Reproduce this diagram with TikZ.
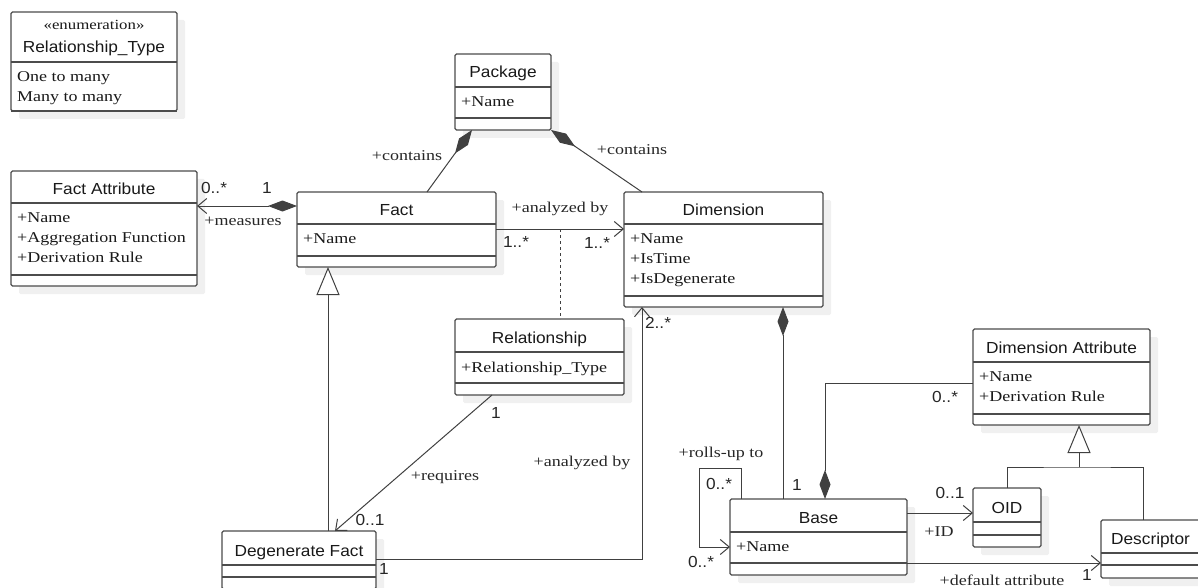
\documentclass[tikz,border=0pt]{standalone}
\usepackage{fontspec}
\setmainfont{Liberation Serif}[FakeStretch=1.2]
\setsansfont{Liberation Sans}[FakeStretch=1.08]
\usetikzlibrary{arrows.meta,shadows}

\newcommand{\namefont}{\sffamily\fontsize{16}{19}\selectfont}
\newcommand{\attrfont}{\rmfamily\fontsize{15}{20}\selectfont}
\newcommand{\multfont}{\sffamily\fontsize{16}{19}\selectfont}

\tikzset{
  classbox/.style={draw=black!70, line width=1.2pt, fill=white, rounded corners=1.5pt,
    anchor=north west, outer sep=0pt, inner sep=0pt,
    drop shadow={shadow xshift=8pt, shadow yshift=-8pt, fill=black!6, opacity=1}},
  sepline/.style={draw=black!70, line width=1.2pt},
  classname/.style={font=\namefont, text=black!90, anchor=base, inner sep=0pt},
  classattr/.style={font=\attrfont, text=black!90, anchor=north west, align=left, inner sep=0pt},
  stereo/.style={font=\rmfamily\fontsize{14}{16}\selectfont, text=black!90, anchor=base, inner sep=0pt},
  line/.style={draw=black!75, line width=1pt},
  nav/.style={line, ->},
  comp/.style={line, {Diamond[length=29pt,width=11pt]}-},
  compnav/.style={line, {Diamond[length=29pt,width=11pt]}->},
  gen/.style={line, -{Triangle[open,length=28pt,width=23pt,fill=white]}},
  assocclass/.style={line, dash pattern=on 3pt off 3pt},
  mult/.style={font=\multfont, text=black!85, inner sep=0pt, text height=11pt, text depth=0pt},
  role/.style={font=\attrfont, text=black!85, inner sep=0pt, text height=10pt, text depth=3pt},
}

% class box: name, x, y, width, header, attributes, operations, title, attribute lines
\newcommand{\umlclass}[9]{%
  \node[classbox, minimum width=#4pt, minimum height={(#5+#6+#7)*1pt}] (#1) at (#2,#3) {};
  \draw[sepline] ([yshift=-#5pt]#1.north west) -- ([yshift=-#5pt]#1.north east);
  \draw[sepline] ([yshift={-(#5+#6)*1pt}]#1.north west) -- ([yshift={-(#5+#6)*1pt}]#1.north east);
  \node[classname] (#1-name) at ([yshift={-(#5-9)*1pt}]#1.north) {#8};
  \node[classattr] (#1-attr) at ([xshift=6pt,yshift={-(#5+9.5)*1pt}]#1.north west) {#9};
}

\begin{document}
\begin{tikzpicture}[x=1pt, y=-1pt, >={Straight Barb[length=9pt,width=15pt]}]
  \useasboundingbox (0,0) rectangle (1198,588);

  % classes
  \umlclass{reltype}{11}{12}{166}{50}{49}{0}{Relationship\_Type}{One to many\\Many to many}
  \node[stereo] (reltype-stereo) at ([yshift=-18pt]reltype.north) {«enumeration»};
  \umlclass{package}{455}{54}{96}{33}{31}{12}{Package}{+Name}
  \umlclass{factattr}{11}{171}{186}{32}{72}{11}{Fact Attribute}{+Name\\+Aggregation Function\\+Derivation Rule}
  \umlclass{fact}{297}{192}{199}{32}{32}{11}{Fact}{+Name}
  \umlclass{dimension}{624}{192}{199}{32}{72}{11}{Dimension}{+Name\\+IsTime\\+IsDegenerate}
  \umlclass{relationship}{455}{319}{169}{33}{31}{12}{Relationship}{+Relationship\_Type}
  \umlclass{degfact}{222}{531}{154}{34}{12}{12}{Degenerate Fact}{}
  \umlclass{dimattr}{973}{329}{177}{33}{52}{11}{Dimension Attribute}{+Name\\+Derivation Rule}
  \umlclass{base}{730}{499}{177}{33}{31}{12}{Base}{+Name}
  \umlclass{oid}{973}{488}{68}{34}{13}{12}{OID}{}
  \umlclass{descriptor}{1101}{520}{99}{33}{12}{13}{Descriptor}{}

  % package composition
  \draw[comp] ([xshift=17pt]package.south west) -- ([xshift=130pt]fact.north west);
  \draw[comp] (package.south east) -- ([xshift=18pt]dimension.north west);
  \node[role] (containsF) at (407,157) {+contains};
  \node[role] (containsD) at (632,151) {+contains};

  % measures
  \draw[compnav] ([yshift=-14pt]fact.north west) -- ([yshift=-14pt]fact.north west -| factattr.east);
  \node[mult] (mFAstar) at (214,188) {0..*};
  \node[mult] (mFAone) at (267,188) {1};
  \node[role] (measures) at (243,222) {+measures};

  % fact analyzed by dimension, with association class
  \draw[nav] ([yshift=-37pt]fact.north east) -- coordinate[pos=.5] (assocmid) ([yshift=-37pt]fact.north east -| dimension.west);
  \draw[assocclass] (assocmid) -- (assocmid |- relationship.north);
  \node[role] (analyzedA) at (560,209) {+analyzed by};
  \node[mult] (mFDa) at (516,242) {1..*};
  \node[mult] (mFDb) at (597,243) {1..*};

  % requires
  \draw[nav] ([xshift=37pt]relationship.south west) -- ([xshift=113pt]degfact.north west);
  \node[mult] (mRone) at (496,413) {1};
  \node[role] (requires) at (445,477) {+requires};
  \node[mult] (mRdeg) at (370,520) {0..1};

  % degenerate fact analyzed by
  \draw[nav] ([yshift=-28pt]degfact.north east) -| ([xshift=18pt]dimension.south west);
  \node[role] (analyzedB) at (582,463) {+analyzed by};
  \node[mult] (mDtwo) at (658,323) {2..*};
  \node[mult] (mDFone) at (384,569) {1};

  % generalization of fact
  \draw[gen] ([xshift=106pt]degfact.north west) -- ([xshift=106pt]degfact.north west |- fact.south);

  % dimension - base
  \draw[comp] ([xshift=159pt]dimension.south west) -- ([xshift=159pt]dimension.south west |- base.north);
  \node[mult] (mBone) at (797,485) {1};

  % base - dimension attribute
  \draw[comp] ([xshift=95pt]base.north west) |- ([yshift=-54pt]dimattr.north west);
  \node[mult] (mDAstar) at (945,397) {0..*};

  % rolls-up
  \draw[nav] ([xshift=11pt]base.north west) |- ([xshift=-31pt,yshift=31pt]base.north west) |- ([yshift=-48pt]base.north west);
  \node[role] (rollsup) at (721,454) {+rolls-up to};
  \node[mult] (mRollA) at (719,484) {0..*};
  \node[mult] (mRollB) at (701,562) {0..*};

  % ID and default attribute
  \draw[nav] ([yshift=-14pt]base.north east) -- ([yshift=-14pt]base.north east -| oid.west);
  \node[mult] (mOID) at (950,493) {0..1};
  \node[role] (idlbl) at (939,533) {+ID};
  \draw[nav] ([yshift=-64pt]base.north east) -- ([yshift=-64pt]base.north east -| descriptor.west);
  \node[mult] (mDesc) at (1087,575) {1};
  \node[role] (defattr) at (1002,582) {+default attribute};

  % generalization of dimension attribute
  \coordinate (genjoin) at ([xshift=106pt,yshift=-42pt]dimattr.south west);
  \draw[gen] (genjoin) -- (genjoin |- dimattr.south);
  \draw[line] ([xshift=34pt]oid.north west) |- (genjoin) -| ([xshift=42pt]descriptor.north west);
\end{tikzpicture}
\end{document}
